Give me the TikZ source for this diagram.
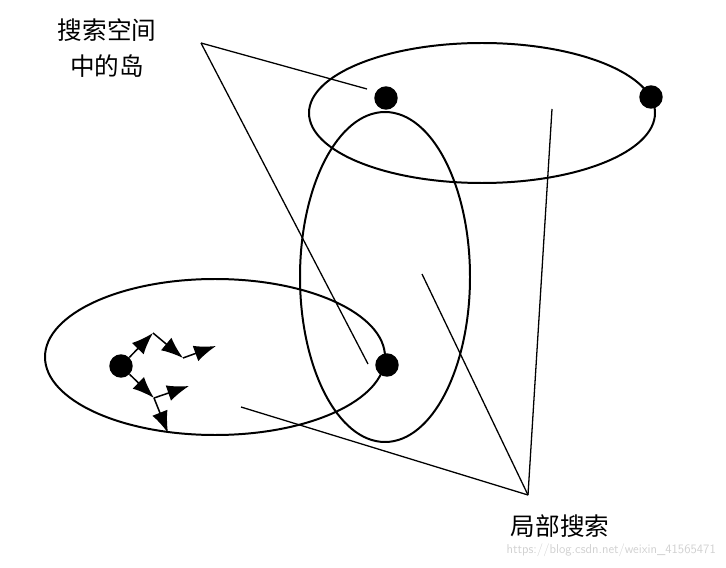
\documentclass[tikz,border=0pt]{standalone}
\usepackage{fontspec}
\newfontfamily\cjk{Noto Sans CJK SC}
\usetikzlibrary{arrows.meta}

\tikzset{
    island/.style={line width=1.7pt},
    pointer/.style={line width=1.1pt},
    knot/.style={circle, fill=black, inner sep=0pt, minimum size=20},
    walk/.style={line width=1.3pt, -{Latex[scale=2.1]}},
    caption/.style={font=\cjk\fontsize{21}{30}\selectfont, align=center}
}

\begin{document}
\begin{tikzpicture}[x=0.03cm,y=-0.03cm]
        \useasboundingbox (0,0) rectangle (726,568);

        %Ellipsen
        \draw[island] (482,113) ellipse [x radius=173, y radius=70];
        \draw[island] (385,277) ellipse [x radius=85, y radius=165];
        \draw[island] (215,357) ellipse [x radius=170, y radius=78];

        %Punkte
        \node[knot] (TopLeft) at (386,98) {};
        \node[knot] (TopRight) at (651,97) {};
        \node[knot] (Start) at (121,366) {};
        \node[knot] (MidRight) at (387,365) {};

        %Zufallsschritte
        \coordinate (UpA) at (153,333);
        \coordinate (UpB) at (183,358);
        \coordinate (UpC) at (216,346);
        \coordinate (DownA) at (154,398);
        \coordinate (DownB) at (189,386);
        \coordinate (DownC) at (168,433);
        \draw[walk] (Start) -- (UpA);
        \draw[walk] (UpA) -- (UpB);
        \draw[walk] (UpB) -- (UpC);
        \draw[walk] (Start) -- (DownA);
        \draw[walk] (DownA) -- (DownB);
        \draw[walk] (DownA) -- (DownC);

        %Beschriftung oben
        \node[caption] (IslandLabel) at (107,48) {搜索空间\\中的岛};
        \coordinate (IslandTip) at (201,43);
        \coordinate (IslandEndA) at (367,89);
        \coordinate (IslandEndB) at (368,364);
        \draw[pointer] (IslandTip) -- (IslandEndA);
        \draw[pointer] (IslandTip) -- (IslandEndB);

        %Beschriftung unten
        \node[caption] (SearchLabel) at (560,526) {局部搜索};
        \coordinate (SearchTip) at (528,495);
        \coordinate (SearchEndA) at (552,109);
        \coordinate (SearchEndB) at (422,274);
        \coordinate (SearchEndC) at (241,407);
        \draw[pointer] (SearchTip) -- (SearchEndA);
        \draw[pointer] (SearchTip) -- (SearchEndB);
        \draw[pointer] (SearchTip) -- (SearchEndC);

        \node[text=black!18, font=\sffamily\fontsize{11}{13}\selectfont, anchor=east] (Mark) at (720,550) {https://blog.csdn.net/weixin\_41565471};
    \end{tikzpicture}
\end{document}
